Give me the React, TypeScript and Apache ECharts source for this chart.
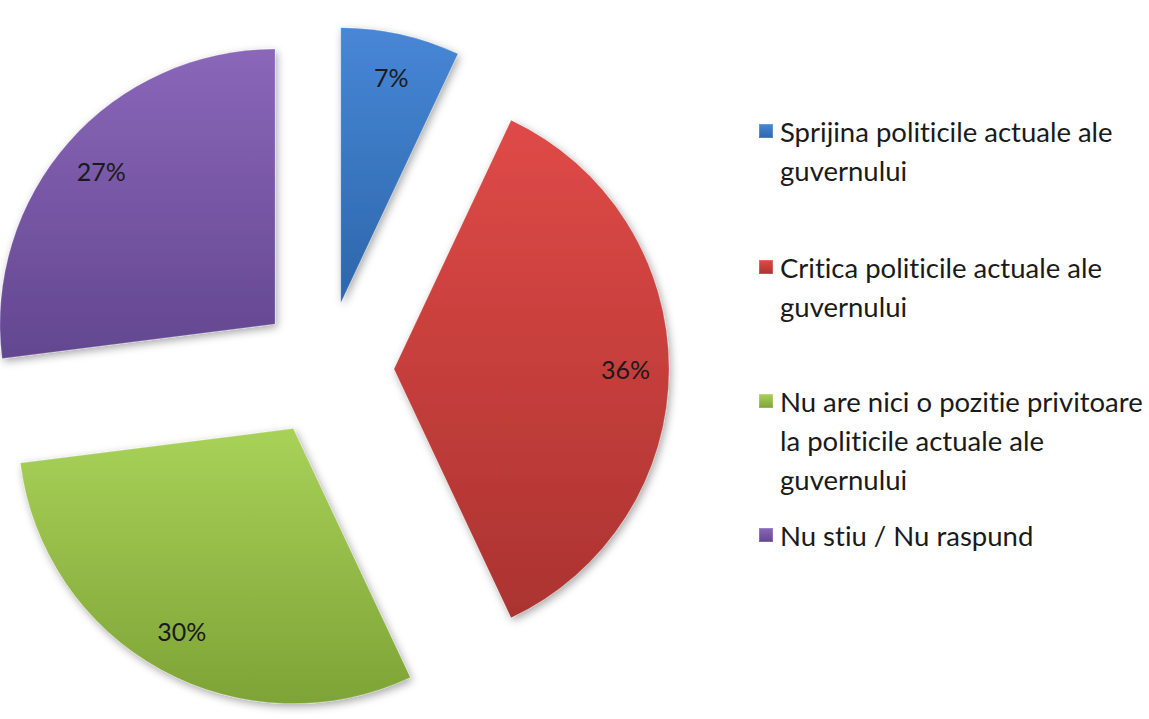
import React, { useEffect, useRef } from "react";
import * as echarts from "echarts";

const categories = [
  "Sprijina politicile actuale ale guvernului",
  "Critica politicile actuale ale guvernului",
  "Nu are nici o pozitie privitoare la politicile actuale ale guvernului",
  "Nu stiu / Nu raspund",
];
const legendLines = [
  ["Sprijina politicile actuale ale", "guvernului"],
  ["Critica politicile actuale ale", "guvernului"],
  ["Nu are nici o pozitie privitoare", "la politicile actuale ale", "guvernului"],
  ["Nu stiu / Nu raspund"],
];
const values = [7, 36, 30, 27];
const topColors = ["#4787d6", "#df4a47", "#a8d258", "#8a67b9"];
const bottomColors = ["#2d66ab", "#ab3330", "#7ea336", "#634690"];

const FONT = "Lato, 'Open Sans', sans-serif";
const LINE_H = 39;
const LEGEND_ICON_Y = [131, 267, 401, 535];

export default function App() {
  const ref = useRef<HTMLDivElement>(null);
  useEffect(() => {
    if (!ref.current) return;
    const chart = echarts.init(ref.current, null, { renderer: "svg" });
    const grad = (i: number) =>
      new echarts.graphic.LinearGradient(0, 0, 0, 1, [
        { offset: 0, color: topColors[i] },
        { offset: 1, color: bottomColors[i] },
      ]);
    const mainData = categories.map((name, i) => ({
      name,
      value: values[i],
      selected: true,
      itemStyle: { color: grad(i) },
    }));
    const labelData = categories.map((name, i) => ({
      name,
      value: values[i],
      selected: true,
    }));
    const legends = categories.map((name, i) => {
      const n = legendLines[i].length;
      return {
        data: [name],
        orient: "vertical",
        left: 758,
        top: LEGEND_ICON_Y[i] - ((2 * n - 1) * LINE_H) / 2,
        padding: 0,
        icon: "rect",
        itemWidth: 14,
        itemHeight: 14,
        itemGap: 0,
        selectedMode: false,
        formatter: () => {
          const blanks = new Array(n - 1).fill("");
          return [...blanks, ...legendLines[i]].join("\n");
        },
        textStyle: {
          fontFamily: FONT,
          fontSize: 27.5,
          lineHeight: LINE_H,
          color: "#1a1a1a",
          padding: [0, 0, 0, 2],
        },
      };
    });
    const common = {
      type: "pie",
      center: [326, 369],
      startAngle: 90,
      clockwise: true,
      selectedMode: "multiple",
      selectedOffset: 68,
      emphasis: { disabled: true },
      labelLine: { show: false },
    };
    chart.setOption({
      animation: false,
      backgroundColor: "#ffffff",
      legend: legends,
      series: [
        {
          ...common,
          name: "main",
          radius: [0, 275],
          label: { show: false },
          itemStyle: {
            borderColor: "rgba(255,255,255,0.18)",
            borderWidth: 1,
            shadowBlur: 8,
            shadowColor: "rgba(0,0,0,0.35)",
            shadowOffsetX: 2,
            shadowOffsetY: 3,
          },
          data: mainData,
        },
        {
          ...common,
          name: "labels",
          silent: true,
          radius: [182, 275],
          itemStyle: { color: "rgba(0,0,0,0)" },
          label: {
            show: true,
            position: "inside",
            formatter: (p: any) => p.value + "%",
            fontFamily: FONT,
            fontSize: 25,
            color: "#1a1a1a",
          },
          data: labelData,
        },
      ],
    });
    return () => chart.dispose();
  }, []);
  return (
    <>
      <style>{"svg text { font-variant-ligatures: none; font-feature-settings: 'liga' 0, 'dlig' 0; }"}</style>
      <div
        ref={ref}
        style={{ position: "absolute", left: 0, top: 0, width: 1149, height: 719 }}
      />
    </>
  );
}
